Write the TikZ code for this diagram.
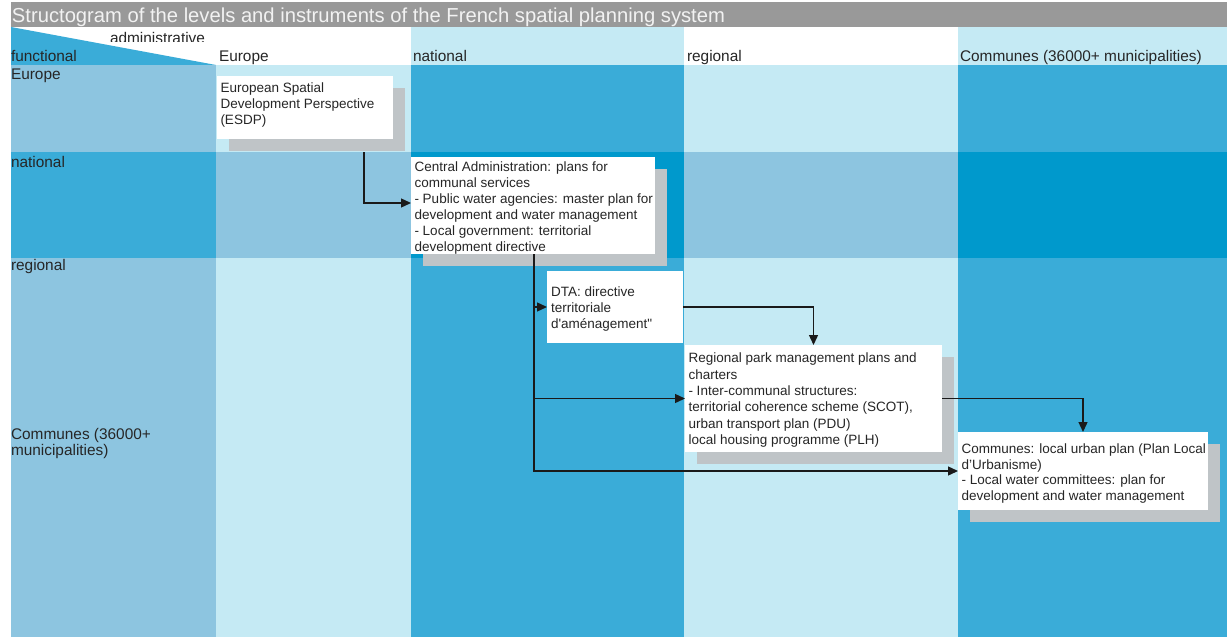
\documentclass[tikz,border=0pt]{standalone}
\usepackage{fontspec}
\setmainfont{Liberation Sans}
\newfontfamily\rawquotes{Liberation Sans}[Ligatures=TeXOff]
\usetikzlibrary{arrows.meta,calc,shadows}

\definecolor{cLight}{HTML}{C5EAF4}
\definecolor{cMedium}{HTML}{8DC5E0}
\definecolor{cBlue}{HTML}{3AACD8}
\definecolor{cDark}{HTML}{0099CC}
\definecolor{cTitle}{HTML}{999999}
\definecolor{cTitleText}{HTML}{F2F2F2}
\definecolor{cShadow}{HTML}{BFC4C7}
\definecolor{cText}{HTML}{262626}
\definecolor{cLine}{HTML}{1A1A1A}

\begin{document}
\begin{tikzpicture}[x=1pt,y=-1pt,
  lbl/.style={anchor=base west, inner sep=0pt, outer sep=0pt,
              font=\fontsize{15.4}{16}\selectfont, text=cText},
  panel/.style={anchor=north west, fill=white, draw=none, inner sep=0pt, outer sep=0pt,
                drop shadow={shadow xshift=12pt, shadow yshift=-12pt, fill=cShadow, opacity=1}},
  flatpanel/.style={anchor=north west, fill=white, draw=none, inner sep=0pt, outer sep=0pt},
  boxtext/.style={anchor=north west, inner sep=0pt, outer sep=0pt, align=left,
                  font=\fontsize{13.5}{16}\selectfont, text=cText},
  conn/.style={draw=cLine, line width=1.3pt, -{Triangle[length=10pt,width=9pt]}}
]
\useasboundingbox (0,0) rectangle (1230,637);

% ---- title bar
\fill[cTitle] (11,2) rectangle (1227,27);
\node[lbl, font=\fontsize{20.2}{22}\selectfont, text=cTitleText] (title) at (12,22.5)
  {Structogram of the levels and instruments of the French spatial planning system};

% ---- header row
\fill[white] (11,27) rectangle (216,65);
\fill[cBlue] (11,27) -- (216,65) -- (11,65) -- cycle;
\fill[white] (216,27) rectangle (411,65);
\fill[cLight] (411,27) rectangle (684,65);
\fill[white] (684,27) rectangle (958,65);
\fill[cLight] (958,27) rectangle (1227,65);

% ---- body columns
\fill[cMedium] (11,65) rectangle (216,637);
\fill[cLight] (216,65) rectangle (411,637);
\fill[cBlue] (411,65) rectangle (684,637);
\fill[cLight] (684,65) rectangle (958,637);
\fill[cBlue] (958,65) rectangle (1227,637);

% ---- national band
\fill[cBlue] (11,152) rectangle (216,258);
\fill[cMedium] (216,152) rectangle (411,258);
\fill[cDark] (411,152) rectangle (684,258);
\fill[cMedium] (684,152) rectangle (958,258);
\fill[cDark] (958,152) rectangle (1227,258);

% ---- header labels
\begin{scope}
  \clip (11,27) rectangle (216,41.8);
  \node[lbl] (hadmin) at (110,43) {administrative};
\end{scope}
\node[lbl] (hfunc) at (11,61.5) {functional};
\node[lbl] (heurope) at (219,61.5) {Europe};
\node[lbl] (hnational) at (413,61.5) {national};
\node[lbl] (hregional) at (687,61.5) {regional};
\node[lbl] (hcommunes) at (960,61.5) {Communes (36000+ municipalities)};

% ---- row labels
\node[lbl] (reurope) at (11,79) {Europe};
\node[lbl] (rnational) at (11,167) {national};
\node[lbl] (rregional) at (11,270.5) {regional};
\node[lbl, anchor=north west, align=left] (rcommunes) at (11,428)
  {Communes (36000+\\municipalities)};

% ---- instrument boxes
\node[panel, minimum width=176pt, minimum height=63pt] (esdp) at (217,76) {};
\node[boxtext] (esdptext) at ($(esdp.north west)+(3.5,6.7)$)
  {European Spatial\\Development Perspective\\(ESDP)};

\node[panel, minimum width=244pt, minimum height=97pt] (central) at (411,157) {};
\begin{scope}
  \clip (central.north west) rectangle (central.south east);
  \node[boxtext] (centraltext) at ($(central.north west)+(3.5,4.9)$)
    {Central Administration: plans for\\communal services\\- Public water agencies: master plan for\\development and water management\\- Local government: territorial\\development directive};
\end{scope}

\node[flatpanel, minimum width=136pt, minimum height=72pt] (dta) at (547,271) {};
\node[boxtext] (dtatext) at ($(dta.north west)+(4,16.2)$)
  {DTA: directive\\territoriale\\{\rawquotes d'aménagement"}};

\node[panel, minimum width=257pt, minimum height=107pt] (regional) at (685,345) {};
\node[boxtext, font=\fontsize{13.5}{16.3}\selectfont] (regionaltext) at ($(regional.north west)+(3.5,8.2)$)
  {Regional park management plans and\\charters\\- Inter-communal structures:\\territorial coherence scheme (SCOT),\\urban transport plan (PDU)\\local housing programme (PLH)};

\node[panel, minimum width=250pt, minimum height=78pt] (communes) at (958,432) {};
\node[boxtext, font=\fontsize{13.5}{15.6}\selectfont] (communestext) at ($(communes.north west)+(3.5,11.7)$)
  {Communes: local urban plan (Plan Local\\d'Urbanisme)\\- Local water committees: plan for\\development and water management};

% ---- connectors
\draw[conn] ($(esdp.south west)+(147,13)$) |- ($(central.west)+(0,-2.5)$);

\coordinate (trunk) at ($(central.south west)+(123,0)$);
\draw[conn] (trunk) |- (dta.west);
\draw[conn] (trunk) |- (regional.west);
\draw[conn] (trunk) |- (communes.west);

\draw[conn] (dta.east) -| (regional.north);
\draw[conn] (regional.east) -| (communes.north);
\end{tikzpicture}
\end{document}
